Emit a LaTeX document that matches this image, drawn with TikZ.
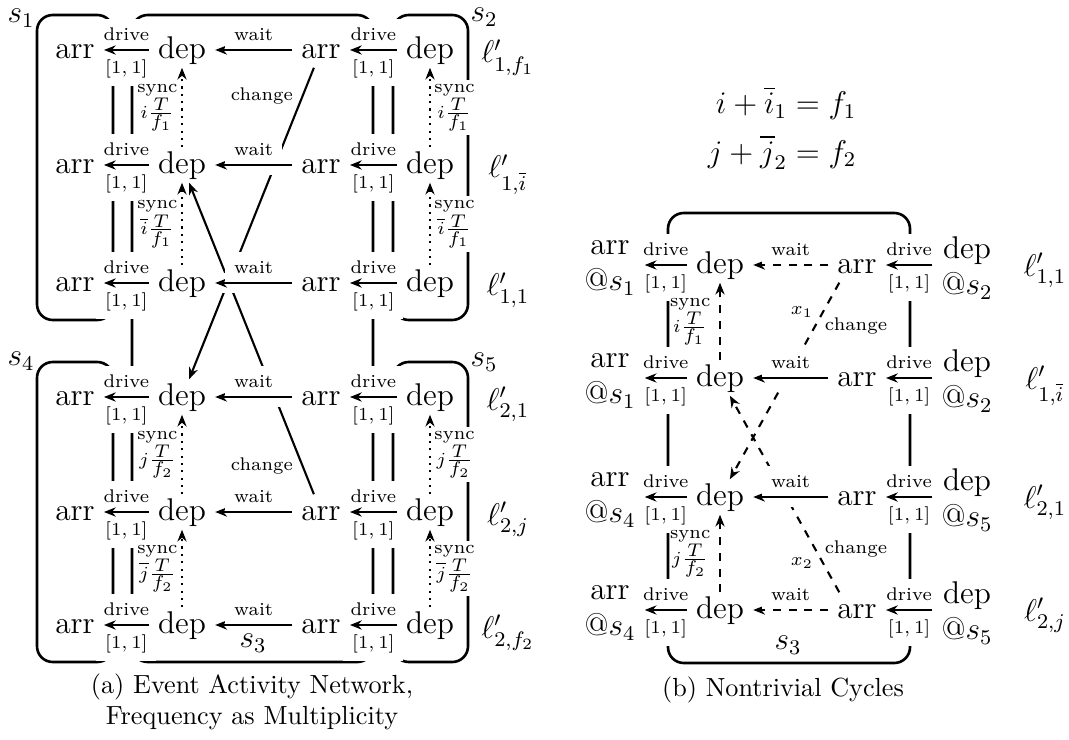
\documentclass[tikz,border=0pt]{standalone}
\usepackage{amsmath,amssymb}
\usetikzlibrary{arrows.meta}

\begin{document}
\begin{tikzpicture}[x=0.3817pt,y=-0.3817pt,font=\large,
  ev/.style={text height=1.5ex,text depth=0pt},
  lbl/.style={font=\scriptsize,fill=white},
  synclbl/.style={font=\scriptsize,align=center,inner sep=1.5pt},
  edge/.style={thick,-{Stealth[length=4.5pt,width=3.5pt]}},
  waitedge/.style={edge,preaction={draw=white,line width=7.5pt,solid,-}},
  box/.style={line width=1pt,rounded corners=6pt}]
\useasboundingbox (0,0) rectangle (1069,740);
% (a) events, one row per line
\foreach \i/\y/\lab in {1/50/{1,f_1},2/165/{1,\overline{i}},3/283/{1,1},4/397/{2,1},5/512/{2,j},6/625/{2,f_2}} {
  \node[ev] (la\i) at (75,\y) {arr};
  \node[ev] (ld\i) at (182,\y) {dep};
  \node[ev] (ra\i) at (321,\y) {arr};
  \node[ev] (rd\i) at (430,\y) {dep};
  \node[anchor=base] (lp\i) at (508,\y+13) {$\ell'_{\lab}$};
}
% stations
\draw[box] (37,15) rectangle (113,320);
\draw[box] (37,362) rectangle (113,662);
\draw[box] (132,15) rectangle (373,662);
\draw[box] (393,15) rectangle (468,320);
\draw[box] (393,362) rectangle (468,662);
% drive
\foreach \i in {1,...,6} {
  \path (ld\i) -- (la\i) node[lbl,midway,above] {drive} node[lbl,midway,below] {$[1,1]$};
  \path (rd\i) -- (ra\i) node[lbl,midway,above] {drive} node[lbl,midway,below] {$[1,1]$};
  \draw[edge] (ld\i) -- (la\i);
  \draw[edge] (rd\i) -- (ra\i);
}
% sync
\foreach \a/\b/\m in {2/1/{i\frac{\textstyle T}{\textstyle f_1}},3/2/{\overline{i}\frac{\textstyle T}{\textstyle f_1}},5/4/{j\frac{\textstyle T}{\textstyle f_2}},6/5/{\overline{j}\frac{\textstyle T}{\textstyle f_2}}} {
  \path (ld\a) -- (ld\b) node[synclbl,midway,left] {sync\\$\m$};
  \path (rd\a) -- (rd\b) node[synclbl,fill=white,midway,right] {sync\\$\m$};
  \draw[edge,dotted] (ld\a) -- (ld\b);
  \draw[edge,dotted] (rd\a) -- (rd\b);
}
% change
\draw[edge] (ra1) -- (ld4) node[pos=0.09,left,font=\scriptsize] {change};
\draw[edge] (ra5) -- (ld2) node[pos=0.09,left,font=\scriptsize] {change};
% wait
\foreach \i in {1,...,6}
  \draw[waitedge] (ra\i) -- (ld\i) node[lbl,midway,above] {wait};
\node (s1) at (21,18) {$s_1$};
\node (s2) at (484,17) {$s_2$};
\node (s3) at (253,643) {$s_3$};
\node (s4) at (21,361) {$s_4$};
\node (s5) at (484,362) {$s_5$};
\node[font=\normalsize,align=center] (capa) at (252,702) {(a) Event Activity Network,\\Frequency as Multiplicity};

% (b) nontrivial cycles
\node (eq) at (782,130) {$\begin{aligned} i+\overline{i}_1&=f_1\\ j+\overline{j}_2&=f_2\end{aligned}$};
\foreach \i/\y/\p/\q/\lab in {1/265/1/2/{1,1},2/378/1/2/{1,\overline{i}},3/497/4/5/{2,1},4/610/4/5/{2,j}} {
  \node[align=center] (ba\i) at (610,\y+3) {arr\\@$s_\p$};
  \node[ev] (bd\i) at (720,\y) {dep};
  \node[ev] (bra\i) at (857,\y) {arr};
  \node[align=center] (brd\i) at (967,\y+3) {dep\\@$s_\q$};
  \node[anchor=base] (blp\i) at (1045,\y+11) {$\ell'_{\lab}$};
}
\draw[box] (668,213) rectangle (910,663);
\foreach \i in {1,...,4} {
  \path (bd\i) -- (ba\i.east |- bd\i) node[lbl,midway,above] {drive} node[lbl,midway,below] {$[1,1]$};
  \path (brd\i.west |- bra\i) -- (bra\i) node[lbl,midway,above] {drive} node[lbl,midway,below] {$[1,1]$};
  \draw[edge] (bd\i) -- (ba\i.east |- bd\i);
  \draw[edge] (brd\i.west |- bra\i) -- (bra\i);
}
\path (bd2) -- (bd1) node[synclbl,midway,left=2pt] {sync\\$i\frac{\textstyle T}{\textstyle f_1}$};
\path (bd4) -- (bd3) node[synclbl,midway,left=2pt] {sync\\$j\frac{\textstyle T}{\textstyle f_2}$};
\draw[edge,dashed] (bd2) -- (bd1);
\draw[edge,dashed] (bd4) -- (bd3);
\draw[edge,dashed] (bra1.-135) -- (bd3) node[pos=0.15,left,font=\scriptsize] {$x_1$} node[pos=0.22,right,font=\scriptsize] {change};
\draw[edge,dashed] (bra4.135) -- (bd2) node[pos=0.15,left,font=\scriptsize] {$x_2$} node[pos=0.22,right,font=\scriptsize] {change};
\draw[waitedge,dashed] (bra1) -- (bd1) node[lbl,midway,above] {wait};
\draw[waitedge] (bra2) -- (bd2) node[lbl,midway,above] {wait};
\draw[waitedge] (bra3) -- (bd3) node[lbl,midway,above] {wait};
\draw[waitedge,dashed] (bra4) -- (bd4) node[lbl,midway,above] {wait};
\node (s3b) at (788,645) {$s_3$};
\node[font=\normalsize] (capb) at (783,690) {(b) Nontrivial Cycles};
\end{tikzpicture}
\end{document}
